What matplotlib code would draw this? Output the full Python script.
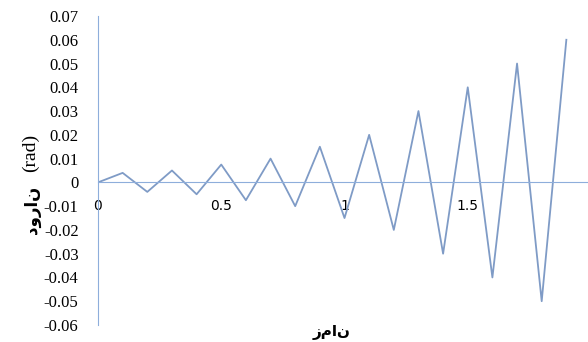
import numpy as np
import matplotlib.pyplot as plt

# time (s) and rotation (rad)
t = [0, 0.1, 0.2, 0.3, 0.4, 0.5, 0.6, 0.7, 0.8, 0.9, 1.0,
     1.1, 1.2, 1.3, 1.4, 1.5, 1.6, 1.7, 1.8, 1.9]
rot = [0, 0.004, -0.004, 0.005, -0.005, 0.0075, -0.0075, 0.01, -0.01, 0.015, -0.015,
       0.02, -0.02, 0.03, -0.03, 0.04, -0.04, 0.05, -0.05, 0.06]
xticks = [0, 0.5, 1, 1.5, 2]
xtick_labels = ['0', '0.5', '1', '1.5', '2']
yticks = np.round(np.arange(-0.06, 0.0701, 0.01), 2)

xlabel_txt = 'زمان'
ylabel_txt = 'دوران'

fig = plt.figure(figsize=(5.88, 3.42), dpi=100)
ax = fig.add_axes([98/588, 17/342, 493/588, 309/342])

ax.plot(t, rot, color='#7f9bc6', lw=1.3)

ax.set_xlim(0, 2)
ax.set_ylim(-0.06, 0.07)
ax.set_yticks(yticks)
ax.set_yticklabels(['0' if v == 0 else '%.2f' % v for v in yticks],
                   fontfamily='Liberation Serif', fontsize=12)
ax.set_xticks(xticks)
ax.set_xticklabels(xtick_labels, fontfamily='Liberation Serif', fontsize=12)

for s in ['top', 'right']:
    ax.spines[s].set_visible(False)
ax.spines['bottom'].set_position(('data', 0))
ax.spines['bottom'].set_color('#8eaedb')
ax.spines['left'].set_color('#8eaedb')
ax.tick_params(axis='both', length=0)
ax.tick_params(axis='y', pad=14)
ax.tick_params(axis='x', pad=12)

fig.text(30/588, 1 - 153/342, '(rad)', rotation=90, ha='center', va='center',
         fontfamily='Liberation Serif', fontsize=14)
fig.text(32/588, 1 - 210/342, ylabel_txt, rotation=90, ha='center', va='center',
         fontfamily='DejaVu Sans', fontsize=12, fontweight='bold')
fig.text(332/588, 1 - 333/342, xlabel_txt, ha='center', va='center',
         fontfamily='DejaVu Sans', fontsize=11, fontweight='bold')

fig.savefig('out.png', dpi=100)
